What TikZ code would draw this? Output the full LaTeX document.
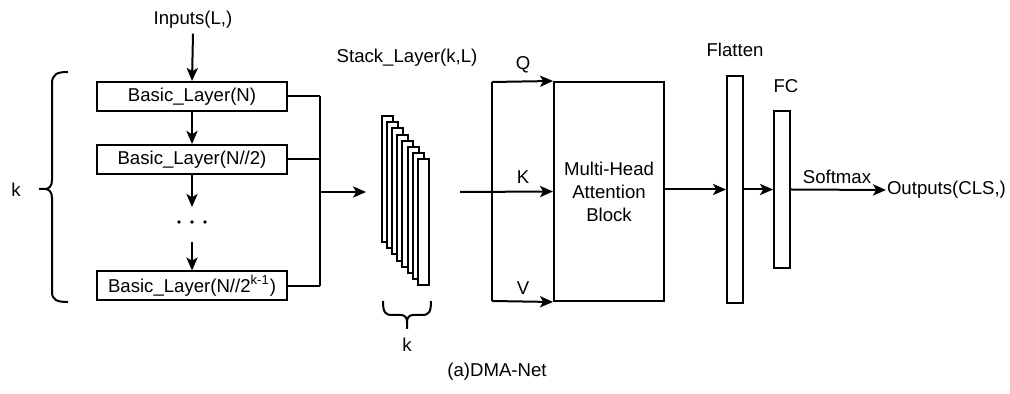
\documentclass[tikz,border=0pt]{standalone}
\usepackage{fontspec}
\setmainfont{Liberation Sans}
\usetikzlibrary{arrows.meta}
\begin{document}
\begin{tikzpicture}[x=0.5pt,y=-0.5pt,
  line width=1pt,
  txt/.style={inner sep=0pt,font=\fontsize{9.3pt}{11pt}\selectfont},
  layerbox/.style={draw,fill=white,minimum width=95pt,minimum height=14.5pt,inner sep=0pt,font=\fontsize{9.3pt}{11pt}\selectfont},
  bar/.style={draw,fill=white,inner sep=0pt},
  arr/.style={-{Stealth[length=6.5pt,width=5.6pt,inset=1.6pt]}},
  dot/.style={circle,fill,inner sep=0pt,minimum size=1.8pt}]
\useasboundingbox (0,0) rectangle (1010,394);
% inputs and layers
\node[txt] (in) at (193,20) {Inputs(L,)};
\node[layerbox] (b1) at (192,96.5) {Basic\_Layer(N)};
\node[layerbox] (b2) at (192,159.5) {Basic\_Layer(N//2)};
\node[dot] (dt1) at (179,222) {};
\node[dot] (dt2) at (192,222) {};
\node[dot] (dt3) at (205,222) {};
\node[layerbox] (b4) at (192,286) {Basic\_Layer(N//2\textsuperscript{k-1})};
\coordinate (d1) at (192,207);
\coordinate (d2) at (192,242);
\draw[arr] ([yshift=-2pt]in.south) -- (b1.north);
\draw[arr] (b1.south) -- (b2.north);
\draw[arr] (b2.south) -- (d1);
\draw[arr] (d2) -- (b4.north);
% collecting lines
\coordinate (c1) at (320,96.5);
\coordinate (c2) at (320,159.5);
\coordinate (c4) at (320,286);
\coordinate (j) at (320,192);
\coordinate (sin) at (366,192);
\draw (b1.east) -- (c1);
\draw (b2.east) -- (c2);
\draw (b4.east) -- (c4);
\draw (c1) -- (c4);
\draw[arr] (j) -- (sin);
% left brace
\draw (68,72) .. controls (57,72) and (52,74) .. (52,84) -- (52,180)
  .. controls (52,186) and (49,189) .. (45,189) -- (39,189);
\draw (45,189) .. controls (49,189) and (52,192) .. (52,198) -- (52,292)
  .. controls (52,300) and (57,302) .. (68,302);
\node[txt] (kl) at (16,190) {k};
% stack
\node[txt] (st) at (407,58) {Stack\_Layer(k,L)};
\foreach \i in {0,...,7} {
  \node[bar,minimum width=5.5pt,minimum height=63pt] (s\i) at ({387+5.2*\i},{179+6.2*\i}) {};
}
% bottom brace
\draw (383,301) .. controls (383,312) and (385,315) .. (392,315) -- (401,315)
  .. controls (405,315) and (407,318) .. (407,322) -- (407,329);
\draw (431,301) .. controls (431,312) and (429,315) .. (422,315) -- (413,315)
  .. controls (409,315) and (407,318) .. (407,322);
\node[txt] (kb) at (407,345) {k};
% attention
\node[bar,minimum width=55pt,minimum height=109.5pt,align=center,font=\fontsize{9.3pt}{11.5pt}\selectfont] (mha) at (609,191.5) {Multi-Head\\Attention\\Block};
\coordinate (sa) at (460,192);
\coordinate (qt) at (492,82);
\coordinate (vb) at (492,301);
\draw[arr] (sa) -- (mha.west);
\draw (qt) -- (vb);
\draw[arr] (qt) -- (mha.north west);
\draw[arr] (vb) -- (mha.south west);
\node[txt] (q) at (523,65) {Q};
\node[txt] (k) at (523,177) {K};
\node[txt] (v) at (523,288) {V};
% flatten, fc
\node[bar,minimum width=8pt,minimum height=113.5pt] (fl) at (735,189.5) {};
\node[txt] (flt) at (735,50) {Flatten};
\node[bar,minimum width=8pt,minimum height=78.5pt] (fc) at (782,189.5) {};
\node[txt] (fct) at (786,86) {FC};
\node[txt,anchor=west] (out) at (886,190) {Outputs(CLS,)};
\draw[arr] (mha.east |- fl.west) -- (fl.west);
\draw[arr] (fl.east) -- (fc.west);
\draw[arr] (fc.east) -- (out.west);
\node[txt] (sm) at (837,177) {Softmax};
\node[txt] (cap) at (497,372) {(a)DMA-Net};
\end{tikzpicture}
\end{document}
